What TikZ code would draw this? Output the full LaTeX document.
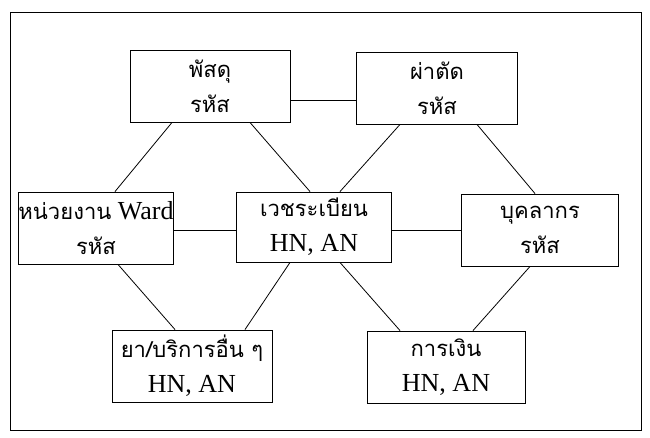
\documentclass[tikz,border=0pt]{standalone}
\usepackage{fontspec}
\setmainfont{Liberation Serif}
\newfontfamily\thaifont[Script=Thai]{Loma}
\tikzset{
  box/.style={draw=black, line width=0.9pt, fill=white, minimum width=#1, minimum height=72pt, inner sep=0pt, align=center, font=\fontsize{26}{35}\selectfont},
  box/.default=158pt,
  link/.style={draw=black, line width=0.8pt},
  frame/.style={draw=black, line width=1pt}
}
\newcommand{\thtxt}[1]{{\thaifont\fontsize{22}{35}\selectfont #1}}
\begin{document}
\begin{tikzpicture}[x=1pt,y=-1pt]
\useasboundingbox (0,0) rectangle (650,437);
\draw[frame] (10,12) rectangle (641,430);
\node[box=160pt] (supply) at (210,86) {\thtxt{พัสดุ}\\\thtxt{รหัส}};
\node[box=161pt] (surgery) at (437,88) {\thtxt{ผ่าตัด}\\\thtxt{รหัส}};
\node[box=152pt] (ward) at (96,228) {\thtxt{หน่วยงาน} Ward\\\thtxt{รหัส}};
\node[box=155pt, minimum height=70pt] (record) at (314,227) {\thtxt{เวชระเบียน}\\HN, AN};
\node[box=157pt] (staff) at (540,230) {\thtxt{บุคลากร}\\\thtxt{รหัส}};
\node[box=160pt] (drug) at (192,366) {\thtxt{ยา/บริการอื่น ๆ}\\HN, AN};
\node[box=158pt] (finance) at (446,367) {\thtxt{การเงิน}\\HN, AN};
\draw[link] (supply.east |- 0,100) -- (surgery.west |- 0,100);
\draw[link] (ward.east |- 0,230) -- (record.west |- 0,230);
\draw[link] (record.east |- 0,230) -- (staff.west |- 0,230);
\draw[link] (supply.south -| 172,0) -- (ward.north -| 115,0);
\draw[link] (supply.south -| 250,0) -- (record.north -| 310,0);
\draw[link] (surgery.south -| 400,0) -- (record.north -| 340,0);
\draw[link] (surgery.south -| 477,0) -- (staff.north -| 535,0);
\draw[link] (ward.south -| 118,0) -- (drug.north -| 175,0);
\draw[link] (record.south -| 290,0) -- (drug.north -| 245,0);
\draw[link] (record.south -| 340,0) -- (finance.north -| 400,0);
\draw[link] (staff.south -| 530,0) -- (finance.north -| 473,0);
\end{tikzpicture}
\end{document}
